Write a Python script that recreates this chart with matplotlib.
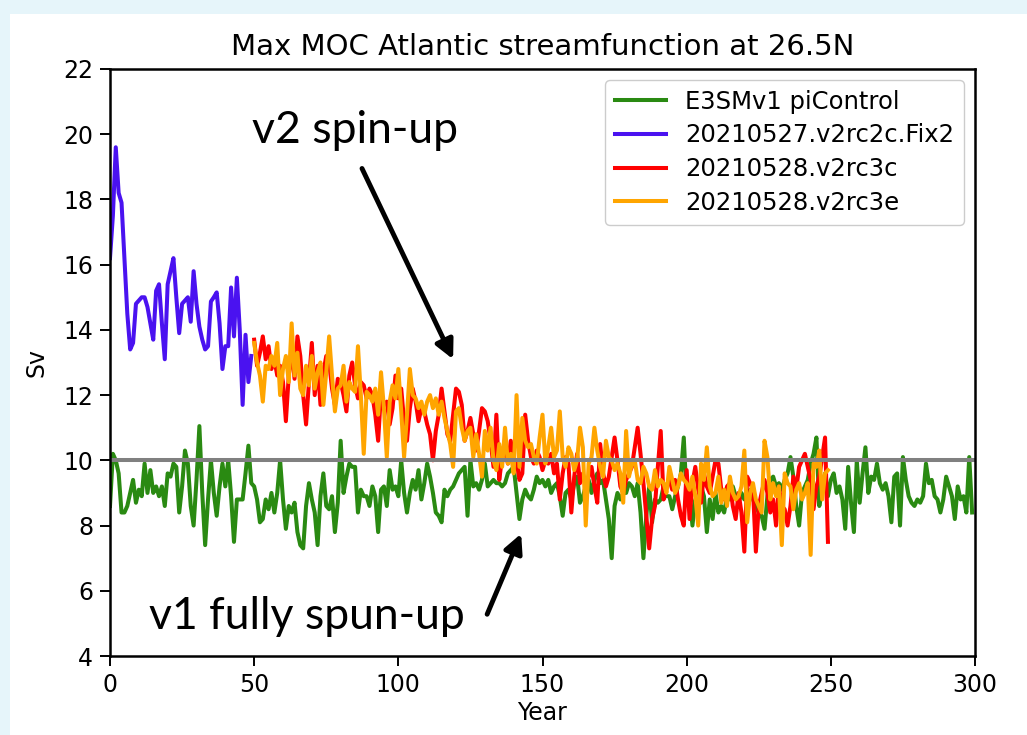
import numpy as np
import matplotlib
matplotlib.use("Agg")
import matplotlib.pyplot as plt
from matplotlib.patches import Rectangle

# E3SMv1 piControl, years 0..299
green_years = np.arange(0, 300)
green_vals = [
    8.6, 10.2, 10.0, 9.6, 8.4, 8.4, 8.6, 9.0, 9.4, 8.7,
    9.1, 8.9, 9.9, 9.0, 9.7, 9.0, 9.2, 8.9, 9.2, 8.6,
    9.6, 9.5, 9.9, 9.8, 8.4, 9.2, 10.3, 9.9, 8.6, 8.0,
    9.4, 11.05, 9.0, 7.4, 8.8, 10.0, 9.0, 8.3, 9.2, 9.9,
    9.2, 10.0, 8.9, 7.5, 8.8, 8.8, 8.8, 9.6, 10.45, 9.3,
    9.2, 8.8, 8.1, 8.2, 8.8, 8.5, 9.0, 8.4, 9.0, 10.0,
    8.8, 7.9, 8.6, 8.4, 8.7, 7.8, 7.4, 7.3, 8.6, 9.3,
    8.8, 8.4, 7.4, 8.9, 9.6, 8.6, 8.5, 8.9, 7.8, 8.7,
    10.6, 9.0, 9.5, 9.9, 9.8, 9.8, 8.4, 9.1, 8.9, 8.9,
    8.6, 9.2, 8.9, 7.8, 9.1, 9.2, 8.6, 9.7, 9.1, 9.2,
    8.9, 10.0, 9.0, 8.4, 9.0, 9.4, 9.1, 9.7, 8.8, 9.3,
    9.9, 9.5, 9.0, 8.4, 8.3, 8.1, 9.1, 8.9, 9.1, 9.2,
    9.4, 9.6, 9.7, 9.8, 8.3, 10.0, 9.2, 9.3, 9.1, 9.4,
    9.9, 9.2, 9.3, 9.4, 9.3, 9.3, 9.2, 9.3, 9.6, 9.7,
    9.8, 9.0, 8.2, 8.8, 9.1, 8.9, 8.8, 9.1, 9.5, 9.3,
    9.4, 9.2, 9.4, 9.0, 9.2, 9.3, 8.9, 8.3, 9.0, 9.1,
    8.8, 9.3, 9.5, 8.7, 8.9, 9.2, 9.4, 9.0, 9.4, 9.6,
    9.3, 9.4, 8.8, 8.2, 7.0, 8.6, 9.0, 8.8, 9.0, 9.0,
    9.3, 9.2, 8.9, 9.3, 8.4, 7.0, 8.3, 9.2, 8.1, 8.8,
    8.7, 8.8, 9.2, 8.9, 8.9, 8.5, 8.9, 9.2, 9.6, 10.7,
    8.8, 9.0, 8.0, 8.8, 8.5, 9.2, 8.9, 7.8, 8.8, 8.2,
    9.0, 8.4, 8.6, 8.4, 8.9, 8.8, 9.2, 8.9, 8.7, 9.0,
    8.8, 8.9, 9.1, 8.8, 8.6, 8.4, 8.3, 7.9, 8.9, 9.4,
    9.5, 9.2, 9.3, 9.1, 9.4, 9.6, 10.1, 9.5, 8.6, 8.0,
    9.0, 9.2, 9.4, 9.9, 10.2, 10.7, 8.6, 9.2, 9.6, 8.9,
    9.4, 9.6, 9.0, 9.2, 8.8, 7.9, 9.8, 8.7, 7.8, 10.0,
    8.7, 9.6, 10.4, 9.0, 9.5, 9.4, 9.9, 9.3, 9.1, 9.3,
    8.9, 8.1, 9.5, 9.6, 8.0, 10.1, 9.4, 8.9, 8.7, 8.6,
    8.8, 8.7, 8.9, 9.9, 9.3, 9.4, 8.9, 8.8, 8.4, 8.8,
    9.5, 9.2, 8.9, 8.2, 9.2, 8.8, 8.9, 8.4, 10.1, 8.4,
]

# 20210527.v2rc2c.Fix2, years 0..49
blue_years = np.arange(0, 50)
blue_vals = [
    16.2, 17.5, 19.6, 18.2, 17.9, 16.2, 14.5, 13.4, 13.6, 14.8,
    14.9, 15.0, 15.0, 14.7, 14.2, 13.7, 15.2, 15.4, 14.2, 13.1,
    15.4, 15.8, 16.2, 15.0, 13.9, 14.8, 14.9, 15.0, 14.25, 15.8,
    14.8, 14.1, 13.7, 13.4, 13.5, 14.87, 15.0, 15.15, 14.2, 12.8,
    13.5, 13.5, 15.3, 13.8, 15.6, 14.0, 11.7, 13.85, 12.4, 13.2,
]

# 20210528.v2rc3c and v2rc3e, years 50..249
v2_years = np.arange(50, 250)
red_vals = [
    13.7, 12.9, 13.3, 13.8, 13.1, 13.5, 12.8, 13.1, 12.6, 12.9,
    12.4, 11.2, 12.6, 13.4, 12.5, 13.8, 13.2, 12.0, 11.1, 12.4,
    13.6, 12.0, 12.9, 11.7, 12.7, 13.2, 13.0, 12.2, 11.7, 12.5,
    12.4, 12.0, 11.5, 12.6, 13.0, 12.3, 11.9, 12.4, 12.3, 11.9,
    12.2, 12.0, 11.4, 10.6, 12.1, 11.7, 11.8, 11.1, 11.6, 12.6,
    11.9, 12.2, 11.2, 10.6, 11.6, 12.2, 11.8, 11.2, 11.6, 11.5,
    11.1, 10.8, 10.0, 10.9, 11.4, 12.2, 11.5, 10.8, 10.6, 11.4,
    12.2, 12.1, 11.7, 10.6, 10.9, 11.3, 10.8, 10.3, 10.9, 11.6,
    11.5, 11.2, 10.6, 9.8, 11.4, 9.4, 10.1, 10.3, 9.9, 10.6,
    9.8, 10.0, 9.4, 9.6, 11.4, 10.6, 10.1, 9.9, 10.3, 10.1,
    9.7, 10.0, 9.9, 10.2, 9.6, 9.9, 8.8, 9.6, 10.1, 9.9,
    8.4, 9.5, 10.2, 9.3, 9.6, 9.2, 9.5, 9.8, 9.2, 8.7,
    10.5, 9.6, 9.2, 9.5, 10.1, 10.7, 10.0, 9.2, 9.0, 9.4,
    9.6, 9.8, 10.4, 11.0, 10.2, 9.3, 8.3, 7.3, 8.2, 8.6,
    9.8, 10.9, 8.8, 9.2, 9.4, 9.1, 9.4, 8.8, 8.3, 8.0,
    9.7, 8.2, 9.3, 9.8, 9.1, 8.7, 9.6, 9.2, 9.0, 9.5,
    10.0, 9.9, 9.1, 8.8, 9.2, 9.3, 8.6, 8.2, 9.0, 8.4,
    7.2, 9.5, 9.3, 9.1, 7.2, 8.6, 9.0, 9.4, 9.0, 8.4,
    8.8, 8.0, 9.2, 8.6, 8.5, 8.0, 8.6, 9.5, 9.1, 9.8,
    10.0, 10.2, 9.8, 9.4, 8.5, 9.2, 9.5, 10.1, 10.7, 7.5,
]
orange_vals = [
    13.6, 13.0, 12.6, 11.8, 12.9, 12.8, 13.2, 12.9, 13.6, 12.0,
    12.8, 13.2, 12.4, 14.2, 12.6, 13.3, 12.2, 12.0, 12.9, 12.3,
    13.2, 12.2, 12.7, 13.0, 11.7, 12.7, 13.8, 12.6, 11.5, 12.2,
    12.3, 12.9, 11.8, 12.4, 12.2, 12.1, 13.5, 12.0, 10.2, 12.1,
    12.0, 11.8, 12.2, 11.4, 12.7, 11.6, 10.1, 11.8, 12.3, 11.9,
    12.8, 11.5, 10.1, 11.4, 12.8, 12.0, 11.9, 11.6, 11.8, 11.4,
    11.8, 12.0, 11.6, 11.9, 11.4, 11.8, 11.3, 10.9, 10.5, 9.8,
    11.5, 11.6, 11.0, 10.6, 10.9, 11.0, 10.1, 10.8, 10.2, 9.5,
    10.9, 10.3, 11.0, 10.0, 9.7, 10.5, 9.8, 11.0, 9.9, 10.2,
    9.6, 12.0, 9.8, 11.3, 10.6, 10.4, 10.5, 10.1, 9.9, 10.7,
    11.4, 9.9, 10.4, 11.0, 10.1, 10.3, 11.5, 10.1, 9.8, 10.4,
    10.2, 9.7, 10.0, 11.0, 10.4, 8.0, 9.9, 10.1, 11.0, 10.3,
    9.8, 9.5, 10.6, 10.1, 10.0, 9.7, 9.9, 9.6, 8.7, 10.9,
    9.5, 9.9, 10.0, 9.4, 9.3, 9.8, 9.6, 9.2, 9.1, 9.7,
    9.2, 9.4, 9.3, 9.0, 9.8, 9.4, 9.0, 9.2, 9.6, 9.4,
    9.3, 9.1, 9.5, 8.9, 8.0, 9.9, 9.4, 10.4, 9.2, 8.9,
    9.0, 9.5, 8.7, 9.1, 8.6, 9.5, 9.0, 8.8, 8.9, 9.2,
    10.3, 8.1, 9.0, 9.3, 8.8, 8.6, 8.4, 10.6, 10.1, 8.8,
    9.3, 8.9, 9.2, 7.4, 9.6, 9.3, 9.2, 8.5, 9.1, 9.3,
    8.8, 9.0, 9.3, 7.1, 9.9, 9.8, 10.3, 8.8, 9.6, 9.7,
]

labels = ["E3SMv1 piControl", "20210527.v2rc2c.Fix2",
          "20210528.v2rc3c", "20210528.v2rc3e"]
x_ticks = [0, 50, 100, 150, 200, 250, 300]
y_ticks = [4, 6, 8, 10, 12, 14, 16, 18, 20, 22]

fig = plt.figure(figsize=(10.27, 7.35), dpi=100, facecolor="#e6f5fa")
# white slide area
fig.patches.append(Rectangle((10 / 1027, 0), 1, 1 - 14 / 735,
                             transform=fig.transFigure, fc="white",
                             ec="none", zorder=-1))

ax = fig.add_axes([110 / 1027, 1 - 656 / 735, 865 / 1027, 587 / 735])
lw = 2.9
ax.plot(green_years, green_vals, color="#2a8a12", lw=lw, label=labels[0])
ax.plot(blue_years, blue_vals, color="#4a12f0", lw=lw, label=labels[1])
ax.plot(v2_years, red_vals, color="red", lw=lw, label=labels[2])
ax.plot(v2_years, orange_vals, color="orange", lw=lw, label=labels[3])
ax.axhline(10, color="gray", lw=lw)

ax.set_xlim(0, 300)
ax.set_ylim(4, 22)
ax.set_xticks(x_ticks)
ax.set_yticks(y_ticks)
ax.tick_params(labelsize=17, length=7, width=1.4, pad=5)
for s in ax.spines.values():
    s.set_linewidth(1.8)
ax.set_xlabel("Year", fontsize=17, labelpad=3)
ax.set_ylabel("Sv", fontsize=17, labelpad=11)
ax.set_title("Max MOC Atlantic streamfunction at 26.5N", fontsize=21, pad=10)

ax.legend(loc="upper right", fontsize=17.5, handlelength=2.1,
          borderaxespad=0.45, labelspacing=0.4, framealpha=1,
          edgecolor="#cccccc")

# slide annotations
ax.text(85, 20.1, "v2 spin-up", fontsize=32, family="Lato",
        ha="center", va="center")
ax.text(68.3, 5.2, "v1 fully spun-up", fontsize=32, family="Lato",
        ha="center", va="center")
ap = dict(arrowstyle="-|>", lw=3.5, color="black", mutation_scale=28,
          shrinkA=0, shrinkB=0)
ax.annotate("", xy=(119, 13.1), xytext=(87.4, 18.95), arrowprops=ap)
ax.annotate("", xy=(142.6, 7.75), xytext=(130.8, 5.28), arrowprops=ap)

fig.savefig("out.png", dpi=100, facecolor=fig.get_facecolor())
